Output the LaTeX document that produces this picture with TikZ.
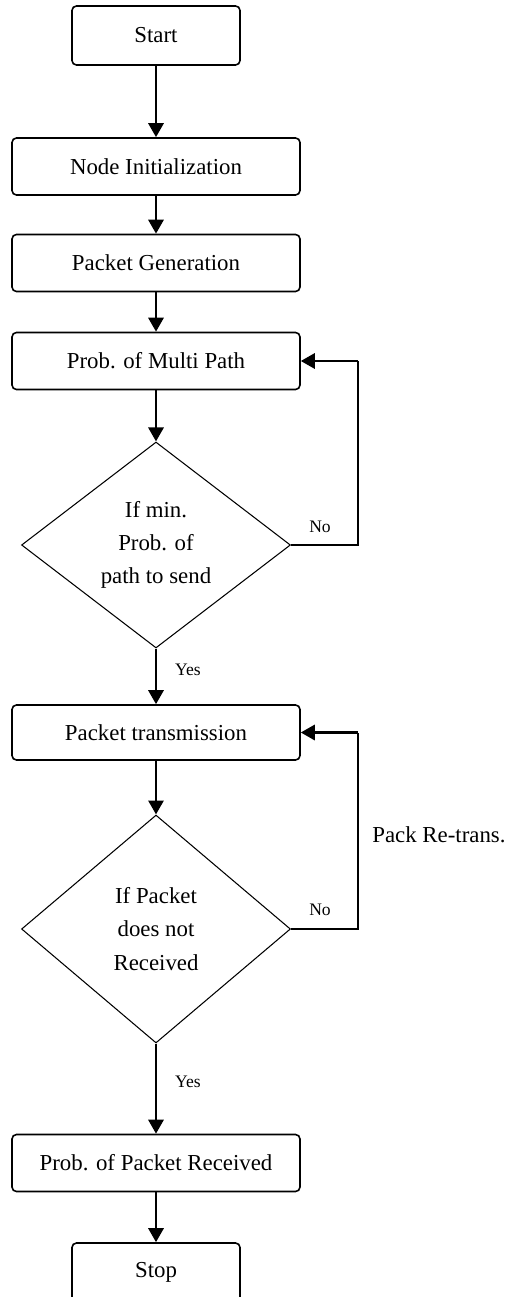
\documentclass[tikz,border=0pt]{standalone}
\usepackage{fontspec}
\setmainfont{Liberation Serif}
\usetikzlibrary{arrows.meta}
\usetikzlibrary{shapes.geometric}

\begin{document}
\begin{tikzpicture}[x=0.02cm, y=-0.02cm,
  caja/.style={draw, line width=0.9pt, rounded corners=2.5pt,
    minimum width=5.76cm, minimum height=1.14cm, inner sep=2pt,
    font=\fontsize{13}{16}\selectfont},
  terminal/.style={caja, minimum width=3.36cm, minimum height=1.18cm},
  decision/.style={draw, diamond, line width=0.6pt, aspect=1.3, inner sep=1pt,
    minimum width=5.38cm, align=center, font=\fontsize{13}{19}\selectfont},
  flecha/.style={-{Triangle[width=0.3cm, length=0.28cm]}, line width=1.7pt},
  retorno/.style={line width=0.8pt},
  etiqueta/.style={font=\fontsize{10}{12}\selectfont}]
  \useasboundingbox (0,0) rectangle (507,1297);

  % Cajas del flujo
  \node[terminal] (start) at (156,35.5)  {Start};
  \node[caja]     (init)  at (156,166.5) {Node Initialization};
  \node[caja]     (gen)   at (156,263)   {Packet Generation};
  \node[caja]     (multi) at (156,361)   {Prob. of Multi Path};
  \node[decision, minimum height=4.12cm] (dec1) at (156,545)
    {If min.\\Prob. of\\path to send};
  \node[caja, minimum height=1.1cm] (trans) at (156,732.5) {Packet transmission};
  \node[decision, minimum height=4.56cm] (dec2) at (156,929)
    {If Packet\\does not\\Received};
  \node[caja]     (recv)  at (156,1163)  {Prob. of Packet Received};
  \node[terminal] (stop)  at (156,1272.5) {Stop};

  % Flechas principales
  \draw[flecha] (start) -- (init);
  \draw[flecha] (init) -- (gen);
  \draw[flecha] (gen) -- (multi);
  \draw[flecha] (multi) -- (dec1);
  \draw[flecha] (dec1) -- (trans);
  \draw[flecha] (trans) -- (dec2);
  \draw[flecha] (dec2) -- (recv);
  \draw[flecha] (recv) -- (stop);

  % Lazos de retorno
  \coordinate (r1) at (358,361);
  \draw[retorno] (dec1.east) -- (dec1.east -| r1) -- (r1);
  \draw[flecha] (r1) -- (multi.east);
  \coordinate (r2) at (358,732.5);
  \draw[retorno] (dec2.east) -- (dec2.east -| r2) -- (r2);
  \draw[flecha] (r2) -- (trans.east);

  % Etiquetas
  \node[etiqueta] (no1)  at (320,527)  {No};
  \node[etiqueta] (yes1) at (188,670)  {Yes};
  \node[etiqueta] (no2)  at (320,910)  {No};
  \node[etiqueta] (yes2) at (188,1082) {Yes};
  \node[font=\fontsize{13}{16}\selectfont, anchor=west, inner sep=0pt] (retrans) at (372,835) {Pack Re-trans.};
\end{tikzpicture}
\end{document}
